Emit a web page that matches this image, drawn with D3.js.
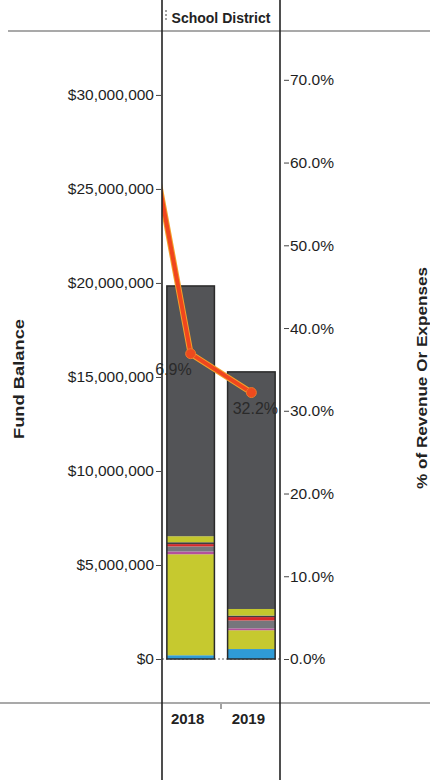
<!DOCTYPE html>
<html><head><meta charset="utf-8">
<script src="https://cdn.jsdelivr.net/npm/d3@7/dist/d3.min.js"></script>
<style>html,body{margin:0;padding:0;background:#fff;}svg{display:block;font-family:"Liberation Sans",Arial,sans-serif;}</style>
</head><body>
<svg id="c" width="430" height="780"></svg>
<script>
// ---- data ----
const years = ["2018", "2019"];
const segBlue     = [200000, 530000];
const segYellow1  = [5370000, 1000000];
const segMagenta  = [150000, 100000];
const segGray     = [270000, 420000];
const segRed      = [120000, 180000];
const segDark     = [100000, 80000];
const segYellow2  = [320000, 350000];
const segBalance  = [13310000, 12610000];
const lineYears   = [2017, 2018, 2019];
const linePct     = [0.765, 0.369, 0.322];
const leftTicks   = [0, 5000000, 10000000, 15000000, 20000000, 25000000, 30000000];
const rightTicks  = [0, 0.1, 0.2, 0.3, 0.4, 0.5, 0.6, 0.7];

const seriesKeys = ["blue","yellow1","magenta","gray","red","dark","yellow2","balance"];
const seriesVals = [segBlue, segYellow1, segMagenta, segGray, segRed, segDark, segYellow2, segBalance];
const colors = {blue:"#2f9bd6", yellow1:"#c6c92f", magenta:"#b4509c", gray:"#76767c",
                red:"#d6282a", dark:"#3e3f44", yellow2:"#c3c62e", balance:"#535457"};

const table = years.map((y, i) => {
  const o = {year: y};
  seriesKeys.forEach((k, j) => o[k] = seriesVals[j][i]);
  return o;
});

// ---- layout ----
const svg = d3.select("#c");
const X0 = 162, X1 = 280, YTOP = 31, YBOT = 659;

const x = d3.scaleBand().domain(years).range([X0, X1]).paddingInner(0.217).paddingOuter(0.08);
const y = d3.scaleLinear().domain([0, 33400000]).range([YBOT, YTOP]);
const y2 = d3.scaleLinear().domain([0, 0.759]).range([YBOT, YTOP]);
const xYear = d3.scaleLinear().domain([2018, 2019])
  .range([x("2018") + x.bandwidth()/2, x("2019") + x.bandwidth()/2]);

// frame lines
svg.append("line").attr("x1", 8).attr("x2", 430).attr("y1", YTOP).attr("y2", YTOP)
  .attr("stroke", "#555").attr("stroke-width", 1.2);
svg.append("line").attr("x1", 0).attr("x2", 430).attr("y1", 703).attr("y2", 703)
  .attr("stroke", "#555").attr("stroke-width", 1.2);

// dotted baseline
svg.append("line").attr("x1", X0).attr("x2", X1).attr("y1", y(0)).attr("y2", y(0))
  .attr("stroke", "#666").attr("stroke-width", 1).attr("stroke-dasharray", "2,2");

// stacked bars
const stack = d3.stack().keys(seriesKeys)(table);
const g = svg.append("g");
stack.forEach(layer => {
  g.selectAll(null).data(layer).enter().append("rect")
    .attr("x", d => x(d.data.year))
    .attr("width", x.bandwidth())
    .attr("y", d => y(d[1]))
    .attr("height", d => y(d[0]) - y(d[1]))
    .attr("fill", colors[layer.key]);
});
// bar outlines
g.selectAll(null).data(table).enter().append("rect")
  .attr("x", d => x(d.year))
  .attr("width", x.bandwidth())
  .attr("y", d => y(d3.sum(seriesKeys, k => d[k])))
  .attr("height", d => y(0) - y(d3.sum(seriesKeys, k => d[k])))
  .attr("fill", "none").attr("stroke", "#2a2a2a").attr("stroke-width", 1.5);

// left axis
const axL = svg.append("g").attr("transform", `translate(${X0},0)`)
  .call(d3.axisLeft(y).tickValues(leftTicks).tickFormat(d3.format("$,")).tickSize(5).tickPadding(3));
axL.select(".domain").remove();
axL.selectAll("text").attr("font-size", 15.5).attr("fill", "#1e1e1e");
axL.selectAll("line").attr("stroke", "#444").attr("transform", "translate(-1,0)");

// right axis
const axR = svg.append("g").attr("transform", `translate(${X1},0)`)
  .call(d3.axisRight(y2).tickValues(rightTicks).tickFormat(d3.format(".1%")).tickSize(5).tickPadding(5));
axR.select(".domain").remove();
axR.selectAll("text").attr("font-size", 15.5).attr("fill", "#1e1e1e");
axR.selectAll("line").attr("stroke", "#444").attr("transform", "translate(4,0)");

// line
svg.append("clipPath").attr("id", "clip").append("rect")
  .attr("x", X0).attr("y", 0).attr("width", X1 - X0).attr("height", 780);
svg.append("clipPath").attr("id", "clipLbl").append("rect")
  .attr("x", 155).attr("y", 0).attr("width", 200).attr("height", 780);
const pts = lineYears.map((yr, i) => ({yr, v: linePct[i]}));
const lineGen = d3.line().x(d => xYear(d.yr)).y(d => y2(d.v));
const lg = svg.append("g").attr("clip-path", "url(#clip)");
lg.append("path").datum(pts).attr("d", lineGen).attr("fill", "none")
  .attr("stroke", "#f3a12a").attr("stroke-width", 6).attr("stroke-linejoin", "round");
lg.append("path").datum(pts).attr("d", lineGen).attr("fill", "none")
  .attr("stroke", "#f0461e").attr("stroke-width", 4).attr("stroke-linejoin", "round");
const shown = pts.filter(d => years.includes(String(d.yr)));
lg.selectAll(null).data(shown).enter().append("circle")
  .attr("cx", d => xYear(d.yr)).attr("cy", d => y2(d.v)).attr("r", 5)
  .attr("fill", "#ee4a1e").attr("stroke", "#e9792a").attr("stroke-width", 1);
svg.append("g").attr("clip-path", "url(#clipLbl)")
  .selectAll(null).data(shown).enter().append("text")
  .attr("x", (d, i) => xYear(d.yr) + (i === 0 ? 1 : 4))
  .attr("y", d => y2(d.v) + 21)
  .attr("text-anchor", (d, i) => i === 0 ? "end" : "middle")
  .attr("font-size", 16).attr("fill", "#2a2a2a")
  .text(d => d3.format(".1%")(d.v));

// vertical frame lines (over everything)
[X0, X1].forEach(xx => svg.append("line").attr("x1", xx).attr("x2", xx).attr("y1", 0).attr("y2", 780)
  .attr("stroke", "#222").attr("stroke-width", 1.6));

// title
svg.append("text").attr("x", (X0 + X1)/2).attr("y", 23).attr("text-anchor", "middle")
  .attr("font-size", 14).attr("font-weight", "bold").attr("fill", "#222").text("School District");
svg.append("line").attr("x1", 166).attr("x2", 166).attr("y1", 10).attr("y2", 22)
  .attr("stroke", "#444").attr("stroke-dasharray", "2,2");

// year labels
svg.selectAll(null).data(years).enter().append("text")
  .attr("x", d => x(d) + x.bandwidth()/2 - 3).attr("y", 724)
  .attr("text-anchor", "middle").attr("font-size", 15).attr("font-weight", "bold").attr("fill", "#222")
  .text(d => d);
svg.append("line").attr("x1", (x("2018") + x.bandwidth() + x("2019"))/2).attr("x2", (x("2018") + x.bandwidth() + x("2019"))/2)
  .attr("y1", 704).attr("y2", 709).attr("stroke", "#444");

// axis titles
svg.append("text").attr("transform", "translate(24,379) rotate(-90)").attr("text-anchor", "middle")
  .attr("font-size", 15).attr("font-weight", "bold").attr("fill", "#222")
  .attr("textLength", 120).attr("lengthAdjust", "spacingAndGlyphs").text("Fund Balance");
svg.append("text").attr("transform", "translate(427,378) rotate(-90)").attr("text-anchor", "middle")
  .attr("font-size", 15).attr("font-weight", "bold").attr("fill", "#222")
  .attr("textLength", 222).attr("lengthAdjust", "spacingAndGlyphs").text("% of Revenue Or Expenses");
</script>
</body></html>
